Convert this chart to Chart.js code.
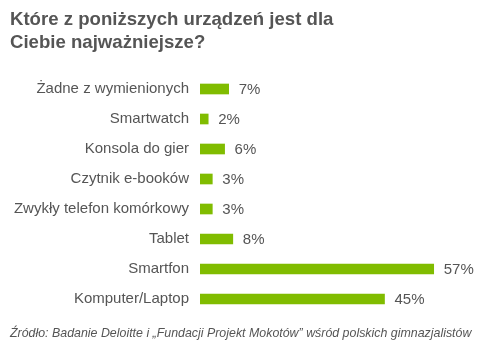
<!DOCTYPE html>
<html><head><meta charset="utf-8">
<script src="https://cdn.jsdelivr.net/npm/chart.js@4"></script>
<style>
html,body{margin:0;padding:0;background:#fff;}
#wrap{position:relative;width:483px;height:351px;}
#c{position:absolute;left:0;top:0;}
.title{position:absolute;left:10px;top:7px;font:bold 18.6px "Liberation Sans",Arial,sans-serif;color:#555;line-height:23px;}
.src{position:absolute;left:10px;top:326px;font:italic 12.4px "Liberation Sans",Arial,sans-serif;color:#555;}
</style></head><body>
<div id="wrap">
<canvas id="c" width="483" height="351"></canvas>
<div class="title">Które z poniższych urządzeń jest dla<br>Ciebie najważniejsze?</div>
<div class="src">Źródło: Badanie Deloitte i „Fundacji Projekt Mokotów” wśród polskich gimnazjalistów</div>
</div>
<script>
const categories = ["Żadne z wymienionych","Smartwatch","Konsola do gier","Czytnik e-booków","Zwykły telefon komórkowy","Tablet","Smartfon","Komputer/Laptop"];
const values = [7,2,6,3,3,8,57,45];
const valueLabels = ["7%","2%","6%","3%","3%","8%","57%","45%"];

const labelPlugin = {
  id:'vals',
  afterDatasetsDraw(chart){
    const ctx = chart.ctx;
    const meta = chart.getDatasetMeta(0);
    ctx.save();
    ctx.font = '15px "Liberation Sans", Arial, sans-serif';
    ctx.fillStyle = '#555';
    ctx.textBaseline = 'middle';
    ctx.textAlign = 'left';
    meta.data.forEach((bar,i)=>{
      ctx.fillText(valueLabels[i], bar.x + 10, bar.y + 1);
    });
    ctx.restore();
  }
};

new Chart(document.getElementById('c'),{
  type:'bar',
  data:{labels:categories,datasets:[{data:values,backgroundColor:'#80bc00',barThickness:10}]},
  options:{
    indexAxis:'y',
    responsive:false,
    animation:false,
    layout:{padding:{top:74,bottom:37,left:0,right:37}},
    plugins:{legend:{display:false},tooltip:{enabled:false}},
    scales:{
      x:{min:0,max:60,display:false},
      y:{
        grid:{display:false,drawTicks:false},
        border:{display:false},
        ticks:{padding:11,color:'#555',font:{family:'"Liberation Sans", Arial, sans-serif',size:15}},
        afterFit(s){s.width=200;}
      }
    }
  },
  plugins:[labelPlugin]
});
</script>
</body></html>
